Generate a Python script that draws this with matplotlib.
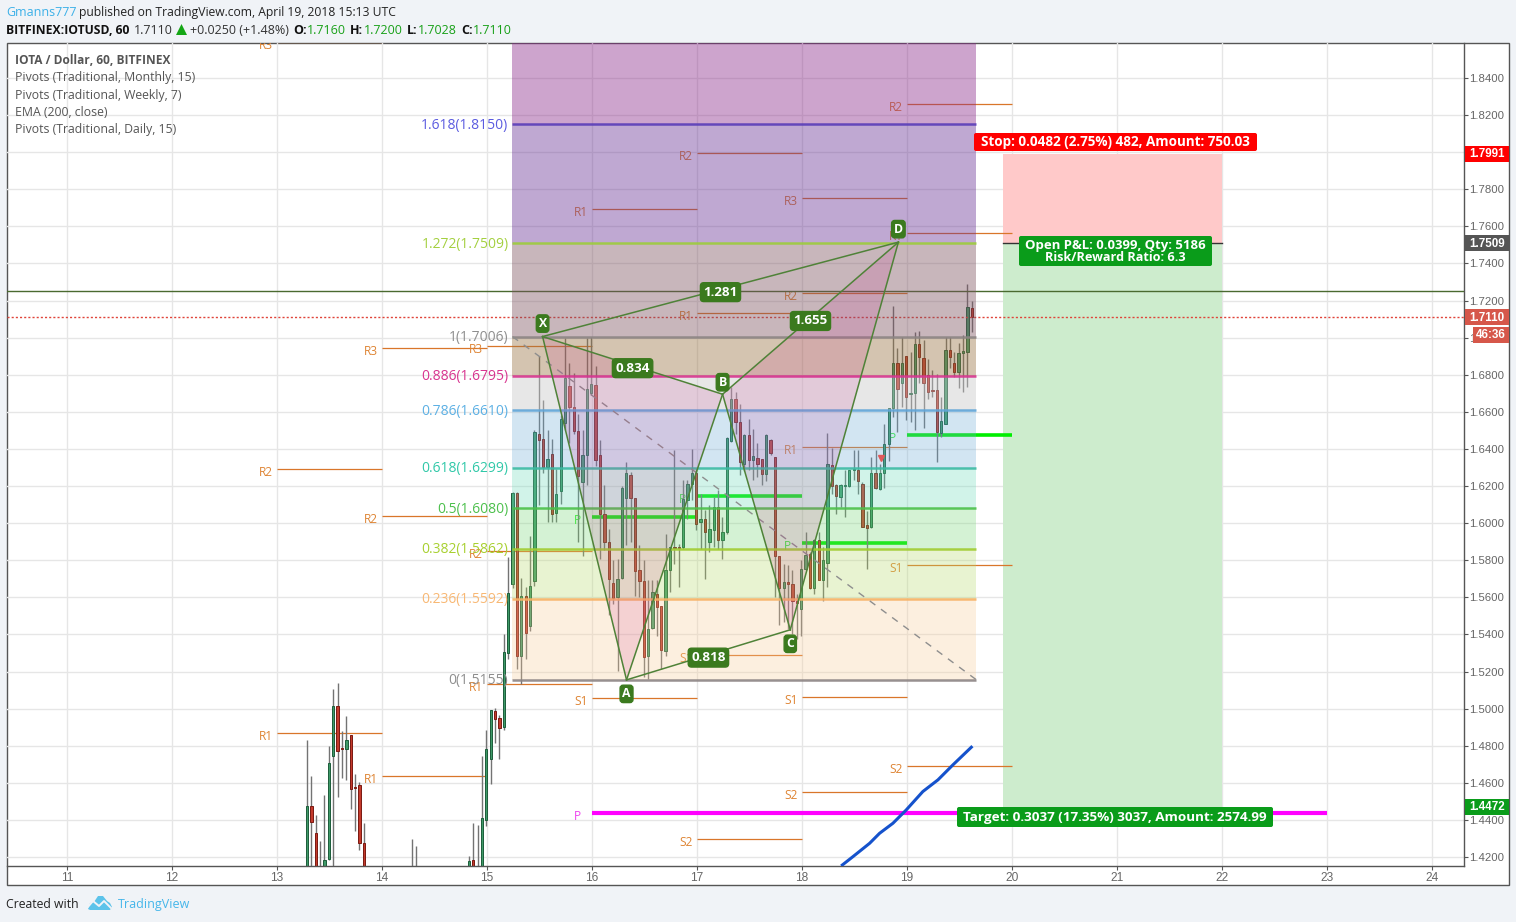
import matplotlib
matplotlib.use("Agg")
import matplotlib.pyplot as plt
from matplotlib.patches import FancyBboxPatch, Rectangle, Polygon
from matplotlib.lines import Line2D
from matplotlib.transforms import Affine2D

W, H = 1516, 922
# ---------- data ----------
hours_left = [7,8,9,10,11,12,13,14,15,16,17,18,19,20, 31,32, 44,45,46,47]
open_left  = [1.4100,1.4475,1.4327,1.4100,1.4100,1.4187,1.4746,1.5015,1.4790,1.4784,1.4856,1.4575,1.4586,1.4278, 1.41,1.41, 1.4100,1.4183,1.4100,1.4100]
high_left  = [1.4831,1.4637,1.4426,1.4286,1.4534,1.4799,1.5106,1.5137,1.4880,1.4961,1.4856,1.4647,1.4604,1.4381, 1.4296,1.4259, 1.4205,1.4381,1.4372,1.4745]
low_left   = [1.4050,1.4100,1.4050,1.4000,1.4050,1.4183,1.4100,1.4525,1.4628,1.4615,1.4458,1.4340,1.4237,1.4050, 1.40,1.40, 1.4050,1.4050,1.4000,1.4050]
close_left = [1.4475,1.4390,1.4100,1.4080,1.4183,1.4705,1.5015,1.4773,1.4785,1.4831,1.4565,1.4570,1.4277,1.4100, 1.40,1.40, 1.4178,1.4100,1.4080,1.4413]

first_hour_main = 48
opens = [1.4399,1.4727,1.4986,1.4948,1.4903,1.5299,1.5673,1.6164,1.5286,1.5605,1.5444,1.5687,1.6483,1.6452,1.6303,1.6375,1.6055,1.6173,1.6541,1.6739,1.6627,1.6497,1.6222,1.6370,
         1.6703,1.6744,1.6370,1.6051,1.5898,1.5678,1.5601,1.5705,1.6136,1.6262,1.6137,1.5749,1.5687,1.5282,1.5434,1.5619,1.5551,1.5309,1.5749,1.5871,1.5871,1.5871,1.6127,1.6209,
         1.6272,1.6006,1.6024,1.5898,1.5961,1.6087,1.5911,1.5954,1.6443,1.6672,1.6546,1.6321,1.6474,1.6343,1.6353,1.6348,1.6263,1.6447,1.6357,1.5821,1.5650,1.5682,1.5673,1.5579,
         1.5538,1.5754,1.5831,1.5651,1.5911,1.5691,1.5785,1.6312,1.6204,1.6141,1.6202,1.6200,1.6289,1.6289,1.6213,1.5992,1.5979,1.6272,1.6186,1.6272,1.6429,1.6623,1.6861,1.6758,
         1.6901,1.6697,1.6703,1.6964,1.6893,1.6798,1.6716,1.6717,1.6487,1.6537,1.6933,1.6866,1.6816,1.6915,1.6924,1.7160]
highs = [1.4885,1.4993,1.5004,1.4966,1.5403,1.5817,1.6170,1.6170,1.5704,1.5655,1.5929,1.6500,1.6901,1.6663,1.6501,1.6456,1.6294,1.6582,1.6996,1.6861,1.6807,1.6591,1.6501,1.6996,
         1.7005,1.6847,1.6451,1.6204,1.5970,1.5804,1.5808,1.6200,1.6330,1.6276,1.6137,1.5880,1.5803,1.5691,1.5691,1.5691,1.5556,1.5943,1.5871,1.6393,1.5890,1.6231,1.6231,1.6398,
         1.6294,1.6159,1.6069,1.6096,1.6141,1.6177,1.6033,1.6465,1.6735,1.6708,1.6641,1.6480,1.6564,1.6510,1.6434,1.6348,1.6483,1.6456,1.6357,1.5821,1.5781,1.5772,1.5745,1.5619,
         1.5799,1.5952,1.5844,1.5916,1.5952,1.5871,1.6488,1.6407,1.6213,1.6209,1.6285,1.6289,1.6393,1.6393,1.6222,1.6064,1.6357,1.6393,1.6321,1.6533,1.6623,1.7171,1.6942,1.7001,
         1.6901,1.6924,1.7032,1.7036,1.6987,1.6884,1.6825,1.6802,1.6681,1.7005,1.7005,1.6924,1.6969,1.7014,1.7288,1.7200]
lows  = [1.4368,1.4593,1.4817,1.4728,1.4885,1.5270,1.5650,1.5214,1.5133,1.5268,1.5421,1.5660,1.6100,1.6270,1.6006,1.6006,1.6006,1.6105,1.6500,1.6430,1.6480,1.5898,1.5822,1.6204,
         1.6690,1.6307,1.5808,1.5853,1.5506,1.5565,1.5201,1.5700,1.5880,1.5900,1.5606,1.5601,1.5169,1.5160,1.5430,1.5394,1.5214,1.5286,1.5628,1.5780,1.5655,1.5862,1.6024,1.6123,
         1.5961,1.5862,1.5700,1.5844,1.5871,1.5862,1.5808,1.5943,1.6438,1.6480,1.6258,1.6281,1.6285,1.6231,1.6249,1.6204,1.6226,1.6370,1.5601,1.5453,1.5466,1.5430,1.5403,1.5376,
         1.5394,1.5745,1.5646,1.5619,1.5691,1.5579,1.5655,1.6159,1.6051,1.6087,1.6033,1.6195,1.6231,1.6159,1.5979,1.5754,1.5975,1.6186,1.6181,1.6191,1.6335,1.6573,1.6492,1.6627,
         1.6555,1.6546,1.6501,1.6753,1.6514,1.6672,1.6681,1.6330,1.6465,1.6533,1.6839,1.6790,1.6731,1.6708,1.6735,1.7028]
closes = [1.4781,1.4993,1.4946,1.4898,1.5306,1.5623,1.6164,1.5286,1.5605,1.5407,1.5659,1.6492,1.6451,1.6303,1.6348,1.6051,1.6155,1.6559,1.6785,1.6627,1.6497,1.6254,1.6370,1.6721,
          1.6748,1.6343,1.6051,1.5898,1.5700,1.5597,1.5700,1.6191,1.6272,1.6136,1.5741,1.5687,1.5277,1.5430,1.5628,1.5547,1.5318,1.5749,1.5871,1.5868,1.5868,1.6132,1.6209,1.6272,
          1.5997,1.6024,1.5952,1.5970,1.6087,1.5911,1.5954,1.6461,1.6672,1.6546,1.6330,1.6474,1.6343,1.6362,1.6317,1.6263,1.6474,1.6379,1.5821,1.5650,1.5682,1.5673,1.5579,1.5569,
          1.5754,1.5826,1.5651,1.5911,1.5691,1.5803,1.6321,1.6200,1.6146,1.6204,1.6204,1.6289,1.6291,1.6227,1.5979,1.5975,1.6272,1.6191,1.6272,1.6429,1.6623,1.6861,1.6721,1.6861,
          1.6681,1.6704,1.6964,1.6897,1.6753,1.6708,1.6711,1.6492,1.6551,1.6933,1.6897,1.6816,1.6920,1.6928,1.7163,1.7110]

pivot_days   = [13,13,13,14,14,14,15,15,15,16,16,16,17,17,17,17,17,18,18,18,18,18,18,19,19,19,19,19]
pivot_names  = ['R3','R2','R1','R3','R2','R1','R3','R2','R1','R1','P','S1','R2','R1','P','S1','S2','R3','R2','R1','P','S1','S2','R2','R1','P','S1','S2']
pivot_prices = [1.8592,1.6292,1.4869,1.6944,1.6039,1.4637,1.6955,1.5850,1.5133,1.7694,1.6033,1.5058,1.7996,1.7133,1.6147,1.5289,1.4298,1.7753,1.7241,1.6411,1.5893,1.5063,1.4551,1.8260,1.7564,1.6475,1.5775,1.4691]
weekly_p = 1.4439

fib_ratios = ['1.618','1.272','1','0.886','0.786','0.618','0.5','0.382','0.236','0']
fib_prices = [1.8150,1.7509,1.7006,1.6795,1.6610,1.6299,1.6080,1.5862,1.5592,1.5155]
fib_line_colors = ['#5a3db8','#9ccc3c','#8c8484','#d8348f','#62a6d8','#3cbaa4','#4cc04c','#a0cc30','#f7b266','#8c8484']
fib_text_colors = ['#5b5be0','#a4d040','#8e8e8e','#d8348f','#5cb0e4','#30c8a8','#4cc04c','#a8d030','#f8b874','#8e8e8e']
fib_zone_colors = ['#cda4cd','#bfa8d2','#c8b6bc','#d4c4b0','#e8e8e8','#d3e6f3','#d2f4ea','#d5f3d5','#e9f4d2','#fdf0e0']

pattern_names = ['X','A','B','C','D']
pattern_days  = [15.530,16.330,17.245,17.890,18.920]
pattern_price = [1.7006,1.5155,1.6695,1.5425,1.7515]
ratio_links = [(0,2,'0.834'),(1,3,'0.818'),(2,4,'1.655'),(0,4,'1.281')]

ema_days   = [18.386,18.487,18.646,18.741,18.868,18.995,19.153,19.297,19.440,19.615]
ema_prices = [1.4157,1.4202,1.4274,1.4328,1.4382,1.4454,1.4553,1.4616,1.4697,1.4792]

y_ticks = [1.84,1.82,1.80,1.78,1.76,1.74,1.72,1.70,1.68,1.66,1.64,1.62,1.60,1.58,1.56,1.54,1.52,1.50,1.48,1.46,1.44,1.42]
x_ticks = list(range(11,25))

entry, stop, target = 1.7509, 1.7991, 1.4472
last_price = 1.7110
hline_price = 1.7252

# ---------- figure ----------
BG = '#f0f3f7'
X11 = 67.1
fig = plt.figure(figsize=(W/100, H/100), dpi=100, facecolor=BG)
pix = Affine2D().scale(1/W, -1/H).translate(0, 1) + fig.transFigure
def ptext(x, y, s, **k):
    k.setdefault('va', 'center'); k.setdefault('family', 'Open Sans')
    return fig.text(0, 0, s, transform=Affine2D().translate(x, y) + pix, **k)
def py(p):
    return 78 + (1.84 - p) * 1854.8
def dx(x):
    return 11 + (x - X11) / 104.96

fig.add_artist(Rectangle((6.5, 43), 1502.5, 842, transform=pix, fc='white', ec='#555555', lw=1, zorder=0))

L, R, T, B = 6.5, 1464, 43, 866
ax = fig.add_axes([L/W, 1-B/H, (R-L)/W, (B-T)/H], facecolor='none')
ax.set_xlim(dx(L), dx(R))
ax.set_ylim(1.84 - (B-78)/1854.8, 1.84 - (T-78)/1854.8)
ax.set_yticks(y_ticks); ax.set_xticks(x_ticks)
ax.set_yticklabels([f'{v:.4f}' for v in y_ticks], family='Liberation Sans', fontsize=8.2, color='#666666')
ax.set_xticklabels([str(v) for v in x_ticks], family='Liberation Sans', fontsize=8.6, color='#666666')
ax.yaxis.tick_right()
ax.tick_params(axis='y', length=3, width=0.8, color='#555555', pad=0.8)
ax.tick_params(axis='x', length=3, width=0.8, color='#555555', pad=1.5)
ax.grid(True, color='#e6e6e6', lw=1, zorder=0)
ax.set_axisbelow(True)
for s in ['left','top']:
    ax.spines[s].set_visible(False)
for s in ['right','bottom']:
    ax.spines[s].set_color('#555555'); ax.spines[s].set_linewidth(1)

# pivots
for d, n, p in zip(pivot_days, pivot_names, pivot_prices):
    isP = n == 'P'
    c = '#00ee00' if isP else '#d9762a'
    ax.plot([d, d+1], [p, p], color=c, lw=2.6 if isP else 0.9, zorder=1, solid_capstyle='butt')
    ax.annotate(n, (d, p), xytext=(-11 if not isP else -14, -3.5), textcoords='offset pixels', ha='center', va='center',
                color='#33ee33' if isP else '#de8433', fontsize=8.6, family='Open Sans', zorder=1, annotation_clip=False, clip_on=True)
ax.plot([16, 23], [weekly_p, weekly_p], color='#ff00ff', lw=3, zorder=1, solid_capstyle='butt')
ax.annotate('P', (16, weekly_p), xytext=(-14, -3.5), textcoords='offset pixels', ha='center', va='center', color='#ee44ee', fontsize=8.6, family='Open Sans', zorder=1)

# candles
def draw_candles(hh, oo, hi, lo, cc):
    for h, o, u, d, c in zip(hh, oo, hi, lo, cc):
        x = 13 + h/24 - 0.006
        up = c >= o
        ax.plot([x, x], [d, u], color='#737373', lw=1, zorder=2, solid_capstyle='butt')
        ax.bar(x, abs(c-o), bottom=min(o, c), width=0.022, color='#3f9a68' if up else '#c43a2c',
               edgecolor='#1f5f3d' if up else '#7c1c14', linewidth=0.72, zorder=2.1)
draw_candles(hours_left, open_left, high_left, low_left, close_left)
draw_candles([first_hour_main+i for i in range(len(opens))], opens, highs, lows, closes)

# horizontal + price lines
ax.axhline(hline_price, color='#4a6a30', lw=1, zorder=3)
ax.axhline(last_price, color='#e0443a', lw=1, ls=(0, (1.5, 1.5)), zorder=3)

# fib zones
fx0 = dx(512.5); fx1 = dx(976.5)
def rgba_for(target, a):
    t = matplotlib.colors.to_rgb(target)
    return tuple(max(0, min(1, (v-(1-a))/a)) for v in t) + (a,)
tops = [ax.get_ylim()[1]] + fib_prices[:-1]
for i, (zc, top, bot) in enumerate(zip(fib_zone_colors, tops, fib_prices)):
    ax.fill_between([fx0, fx1], bot, top, color=rgba_for(zc, 0.42 if i < 5 else 0.3), lw=0, zorder=3.2)
for p, lc, tc, r in zip(fib_prices, fib_line_colors, fib_text_colors, fib_ratios):
    ax.plot([fx0, fx1], [p, p], color=lc, lw=1.8, alpha=0.9, zorder=3.5, solid_capstyle='butt')
    ax.annotate(f'{r}({p:.4f})', (fx0, p), xytext=(-4, -1), textcoords='offset pixels', ha='right', va='center',
                color=tc, fontsize=10, family='Open Sans', zorder=6)
ax.plot([fx0, fx1], [fib_prices[2], fib_prices[-1]], color='#8e8e8e', lw=1, ls=(0, (5, 5)), zorder=3.6)

# harmonic pattern
tri = (200/255, 40/255, 140/255, 0.15)
for a, b, c in [(0,1,2),(2,3,4)]:
    ax.fill([pattern_days[a], pattern_days[b], pattern_days[c]], [pattern_price[a], pattern_price[b], pattern_price[c]], color=tri, lw=0, zorder=3.8)
GREEN = '#3b7a1e'
path = [(0,1),(1,2),(2,3),(3,4),(0,2),(2,4),(0,4),(1,3)]
for a, b in path:
    ax.plot([pattern_days[a], pattern_days[b]], [pattern_price[a], pattern_price[b]], color='#4f8238', lw=1.1, zorder=4)
for a, b, s in ratio_links:
    ax.text((pattern_days[a]+pattern_days[b])/2, (pattern_price[a]+pattern_price[b])/2-0.0015, s, color='white', fontsize=9.6, fontweight='bold',
            family='Open Sans', ha='center', va='center', zorder=6,
            bbox=dict(boxstyle='round,pad=0.22,rounding_size=0.25', fc=GREEN, ec=GREEN))
offs = [13, -14, 12, -14, 13]
for n, d, p, o in zip(pattern_names, pattern_days, pattern_price, offs):
    ax.annotate(n, (d, p), xytext=(0, o), textcoords='offset pixels', color='white', fontsize=8.8, fontweight='bold', family='Open Sans',
                ha='center', va='center', zorder=6, bbox=dict(boxstyle='round,pad=0.18,rounding_size=0.25', fc=GREEN, ec=GREEN))

# position
px0 = dx(1003); px1 = dx(1222)
ax.fill_between([px0, px1], entry, stop, color='#ffc9c9', lw=0, zorder=0.8)
ax.fill_between([px0, px1], target, entry, color='#cdeccd', lw=0, zorder=0.8)
ax.plot([px0, px1], [entry, entry], color='#333333', lw=1, zorder=3)

# EMA
ax.plot(ema_days, ema_prices, color='#1552cc', lw=2.2, zorder=5)
ax.plot([18.75], [1.6351], marker='v', color='#e05a5a', ms=5, zorder=5)

# boxes
def box(x0, y0, x1, y1, fc, rounded=2):
    fig.add_artist(FancyBboxPatch((x0+rounded, y0+rounded), x1-x0-2*rounded, y1-y0-2*rounded, boxstyle=f'round,pad={rounded},rounding_size={rounded}',
                                  transform=pix, fc=fc, ec='none', zorder=5))
def btext(x, y, s, **k):
    return ptext(x, y, s, color='white', fontweight='bold', ha='center', zorder=6, **k)
box(974, 133, 1257, 151, '#ff0000')
btext(1115.5, 142, f'Stop: {stop-entry:.4f} (2.75%) 482, Amount: 750.03', fontsize=9.75)
box(1019, 236, 1212, 266, '#0a9c1a')
btext(1115.5, 245, 'Open P&L: 0.0399, Qty: 5186', fontsize=9.45)
btext(1115.5, 257, 'Risk/Reward Ratio: 6.3', fontsize=9.1)
box(957, 807, 1273, 827, '#0a9c1a')
btext(1115, 817, f'Target: {entry-target:.4f} (17.35%) 3037, Amount: 2574.99', fontsize=9.7)

# axis tags
def tag(p, s, fc, x0=1465, x1=1508.5, h=16):
    y = py(p)
    fig.add_artist(Rectangle((x0, y-h/2), x1-x0, h, transform=pix, fc=fc, ec='none', zorder=5))
    ptext((x0+x1)/2, y+0.5, s, color='white', fontweight='bold', ha='center', fontsize=8.4, family='Liberation Sans', zorder=6)
tag(stop, f'{stop:.4f}', '#ff0000')
tag(entry, f'{entry:.4f}', '#555555')
tag(last_price, f'{last_price:.4f}', '#d6574a')
tag(last_price-0.0093, '46:36', '#d6574a', x0=1473)
tag(target, f'{target:.4f}', '#0a9c1a')

# legend
leg = ['IOTA / Dollar, 60, BITFINEX','Pivots (Traditional, Monthly, 15)','Pivots (Traditional, Weekly, 7)','EMA (200, close)','Pivots (Traditional, Daily, 15)']
for i, s in enumerate(leg):
    ptext(15, 61+i*17, s, color='#555555', fontsize=8.55 if i == 0 else 8.8, fontweight='bold' if i == 0 else 'normal', zorder=6)

# header
ptext(6, 12.5, 'Gmanns777', color='#3bb0e8', fontsize=9, zorder=6)
ptext(79, 12.5, 'published on TradingView.com, April 19, 2018 15:13 UTC', color='#222222', fontsize=8.73, zorder=6)
ptext(6, 30, 'BITFINEX:IOTUSD, 60', color='#111111', fontsize=8.75, fontweight='bold')
ptext(134, 30, f'{last_price:.4f}', color='#333333', fontsize=9)
fig.add_artist(Polygon([(176,35),(187,35),(181.5,24)], transform=pix, fc='#15a615', ec='none'))
ptext(190, 30, '+0.0250 (+1.48%)', color='#333333', fontsize=9)
for x, s, in [(293,'O:'),(350,'H:'),(407,'L:'),(461,'C:')]:
    ptext(x, 30, s, color='#111111', fontsize=9, fontweight='bold')
for x, s in [(307,'1.7160'),(364,'1.7200'),(418,'1.7028'),(473,'1.7110')]:
    ptext(x, 30, s, color='#18a018', fontsize=9)

# footer
ptext(6, 904.5, 'Created with', color='#222222', fontsize=8.8)
ptext(118, 904.5, 'TradingView', color='#45b6ea', fontsize=9)
c = '#5cc3ea'
fig.add_artist(Polygon([(88,909),(90,903),(94,902),(98,896),(103,896),(107,901),(110,903),(112,907),(110,910),(90,910)], transform=pix, fc=c, ec='none'))
fig.add_artist(Line2D([87,93,99,104,111],[908,901,906,901,908], transform=pix, color=BG, lw=1.4))

fig.savefig('out.png', dpi=100, facecolor=BG)
